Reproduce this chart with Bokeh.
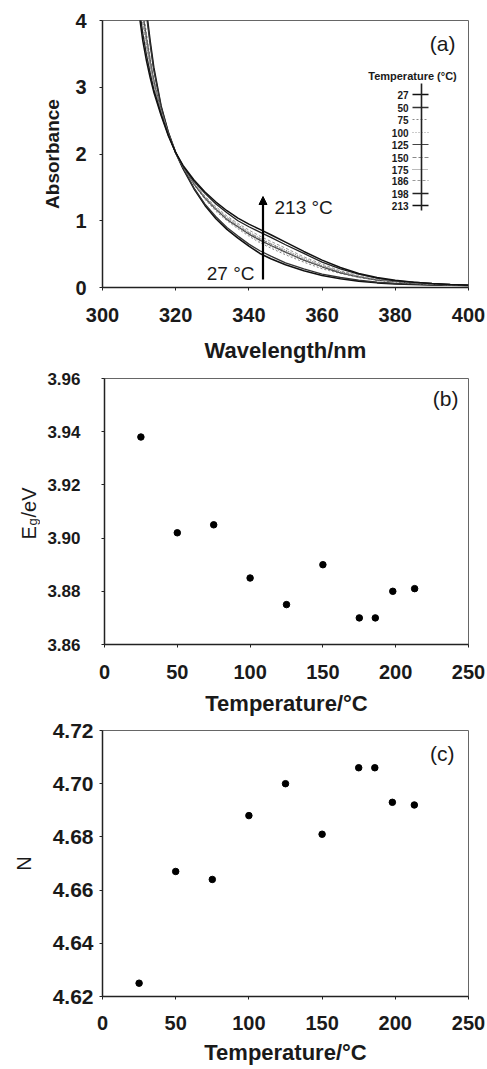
import math
from bokeh.plotting import figure
from bokeh.layouts import column, row
from bokeh.models import Label, Arrow, NormalHead, FixedTicker, PrintfTickFormatter, Range1d
from bokeh.embed import file_html
from bokeh.resources import INLINE

# ---------------- data ----------------
wavelength = [310, 311, 312, 313, 314, 316, 318, 320, 322, 325, 328, 331, 334, 337,
              340, 343, 346, 350, 355, 360, 365, 370, 375, 380, 385, 390, 395, 400]

abs_27 = [5.00, 4.60, 4.15, 3.70, 3.30, 2.72, 2.32, 2.02, 1.78, 1.48, 1.23, 1.03, 0.87, 0.74,
          0.62, 0.51, 0.43, 0.34, 0.25, 0.18, 0.13, 0.095, 0.07, 0.055, 0.045, 0.04, 0.035, 0.03]
abs_50 = [4.91, 4.51, 4.08, 3.65, 3.26, 2.71, 2.32, 2.02, 1.79, 1.49, 1.25, 1.06, 0.90, 0.77,
          0.65, 0.55, 0.47, 0.37, 0.28, 0.20, 0.15, 0.11, 0.08, 0.06, 0.05, 0.04, 0.035, 0.03]
abs_75 = [4.60, 4.20, 3.81, 3.45, 3.13, 2.66, 2.30, 2.02, 1.80, 1.54, 1.32, 1.14, 1.00, 0.88,
          0.77, 0.67, 0.59, 0.49, 0.38, 0.28, 0.21, 0.15, 0.11, 0.08, 0.06, 0.05, 0.04, 0.03]
abs_100 = [4.55, 4.15, 3.78, 3.43, 3.12, 2.65, 2.30, 2.02, 1.81, 1.55, 1.33, 1.16, 1.01, 0.89,
           0.79, 0.69, 0.61, 0.51, 0.40, 0.30, 0.22, 0.15, 0.11, 0.08, 0.06, 0.05, 0.04, 0.03]
abs_125 = [4.51, 4.11, 3.74, 3.40, 3.10, 2.64, 2.29, 2.02, 1.81, 1.55, 1.34, 1.17, 1.02, 0.91,
           0.80, 0.71, 0.63, 0.53, 0.41, 0.31, 0.22, 0.16, 0.11, 0.09, 0.06, 0.05, 0.04, 0.03]
abs_150 = [4.46, 4.06, 3.70, 3.37, 3.08, 2.64, 2.29, 2.02, 1.81, 1.56, 1.35, 1.18, 1.04, 0.92,
           0.82, 0.73, 0.65, 0.54, 0.42, 0.32, 0.23, 0.16, 0.12, 0.09, 0.07, 0.05, 0.04, 0.03]
abs_175 = [4.42, 4.02, 3.66, 3.34, 3.06, 2.63, 2.29, 2.02, 1.81, 1.56, 1.36, 1.19, 1.05, 0.94,
           0.83, 0.74, 0.66, 0.56, 0.44, 0.33, 0.24, 0.17, 0.12, 0.09, 0.07, 0.05, 0.04, 0.03]
abs_186 = [4.35, 3.95, 3.61, 3.30, 3.03, 2.62, 2.28, 2.02, 1.82, 1.57, 1.37, 1.21, 1.07, 0.96,
           0.86, 0.77, 0.69, 0.59, 0.46, 0.35, 0.25, 0.18, 0.13, 0.10, 0.07, 0.05, 0.04, 0.03]
abs_198 = [4.21, 3.81, 3.49, 3.22, 2.97, 2.60, 2.28, 2.02, 1.82, 1.59, 1.41, 1.25, 1.12, 1.00,
           0.91, 0.83, 0.75, 0.64, 0.51, 0.38, 0.28, 0.20, 0.14, 0.10, 0.08, 0.06, 0.045, 0.035]
abs_213 = [4.10, 3.70, 3.40, 3.15, 2.93, 2.58, 2.27, 2.02, 1.83, 1.61, 1.43, 1.28, 1.15, 1.04,
           0.95, 0.87, 0.79, 0.68, 0.54, 0.41, 0.30, 0.21, 0.15, 0.11, 0.08, 0.06, 0.045, 0.035]

legend_labels = ["27", "50", "75", "100", "125", "150", "175", "186", "198", "213"]
curves = [abs_27, abs_50, abs_75, abs_100, abs_125, abs_150, abs_175, abs_186, abs_198, abs_213]

temperature = [25, 50, 75, 100, 125, 150, 175, 186, 198, 213]
band_gap = [3.938, 3.902, 3.905, 3.885, 3.875, 3.890, 3.870, 3.870, 3.880, 3.881]
n_value = [4.625, 4.667, 4.664, 4.688, 4.700, 4.681, 4.706, 4.706, 4.693, 4.692]

wl_ticks = [300, 320, 340, 360, 380, 400]
abs_ticks = [0, 1, 2, 3, 4]
t_ticks = [0, 50, 100, 150, 200, 250]
eg_ticks = [3.86, 3.88, 3.90, 3.92, 3.94, 3.96]
n_ticks = [4.62, 4.64, 4.66, 4.68, 4.70, 4.72]

# ---------------- styles ----------------
FONT = "Liberation Sans"
TXT = "#1a1a1a"
curve_styles = [
    dict(line_color="#111111", line_width=1.6, line_dash="solid"),
    dict(line_color="#333333", line_width=1.3, line_dash="solid"),
    dict(line_color="#888888", line_width=1.0, line_dash="2 2"),
    dict(line_color="#999999", line_width=1.0, line_dash="1 2"),
    dict(line_color="#444444", line_width=1.2, line_dash="solid"),
    dict(line_color="#888888", line_width=1.0, line_dash="4 2"),
    dict(line_color="#777777", line_width=1.0, line_dash="1 1"),
    dict(line_color="#999999", line_width=1.0, line_dash="3 2"),
    dict(line_color="#222222", line_width=1.3, line_dash="solid"),
    dict(line_color="#111111", line_width=1.5, line_dash="solid"),
]


def make_fig(xr, yr, fw, fh, bl, bt, bb, br, xt, yt, yfmt, xstand, ystand, ysize):
    p = figure(frame_width=fw, frame_height=fh, title=None,
               x_range=Range1d(*xr), y_range=Range1d(*yr),
               output_backend="svg", toolbar_location=None,
               min_border_left=bl, min_border_top=bt,
               min_border_bottom=bb, min_border_right=br)
    p.xgrid.visible = False
    p.ygrid.visible = False
    p.outline_line_color = "#666666"
    p.outline_line_width = 1
    p.background_fill_color = "white"
    p.border_fill_color = "white"
    p.xaxis.ticker = FixedTicker(ticks=xt)
    p.yaxis.ticker = FixedTicker(ticks=yt)
    if yfmt:
        p.yaxis.formatter = PrintfTickFormatter(format=yfmt)
    for ax in (p.xaxis[0], p.yaxis[0]):
        ax.axis_line_color = "#222222"
        ax.axis_line_width = 1.5
        ax.major_tick_in = 0
        ax.major_tick_out = 3
        ax.major_tick_line_color = "#222222"
        ax.minor_tick_line_color = None
        ax.major_label_text_font = FONT
        ax.major_label_text_font_style = "bold"
        ax.major_label_text_color = TXT
        ax.axis_label_text_font = FONT
        ax.axis_label_text_font_style = "bold"
        ax.axis_label_text_color = TXT
        ax.axis_label_text_line_height = 1.0
        ax.major_label_text_line_height = 1.0
    p.xaxis.axis_label_text_font_size = "22px"
    p.yaxis.axis_label_text_font_size = "19px"
    p.xaxis.major_label_text_font_size = "20px"
    p.yaxis.major_label_text_font_size = ysize
    p.xaxis.major_label_standoff = xstand
    p.yaxis.major_label_standoff = ystand
    return p


# ---------------- panel (a) : page y 0 .. 367 (frame 20 .. 287) ----------------
pa = make_fig((300, 400), (0, 4), 366, 267, 102, 20, 80, 19, wl_ticks, abs_ticks, None, 17, 13, "20px")
pa.xaxis.axis_label = "Wavelength/nm"
pa.yaxis.axis_label = "Absorbance"
pa.xaxis.axis_label_standoff = 13
pa.yaxis.axis_label_standoff = 9

for ys, st in zip(curves, curve_styles):
    pa.line(wavelength, ys, **st)

# pixel -> data helpers (layout only)
def ax_(px):
    return 300 + (px - 102) / 3.66

def ay_(py):
    return (287 - py) / 66.75

pa.add_layout(Arrow(end=NormalHead(size=8, fill_color="black", line_color="black"),
                    x_start=ax_(262.5), y_start=ay_(279), x_end=ax_(262.5), y_end=ay_(196),
                    line_width=2.2, line_color="black"))
pa.add_layout(Label(x=ax_(274), y=ay_(207), text="213 °C", text_font=FONT,
                    text_font_size="19px", text_baseline="middle", text_align="left",
                    text_color=TXT))
pa.add_layout(Label(x=ax_(254), y=ay_(273), text="27 °C", text_font=FONT,
                    text_font_size="19px", text_baseline="middle", text_align="right",
                    text_color=TXT))
pa.add_layout(Label(x=ax_(455), y=ay_(43), text="(a)", text_font=FONT,
                    text_font_size="21px", text_baseline="middle", text_align="right",
                    text_color=TXT))
pa.add_layout(Label(x=ax_(412), y=ay_(75), text="Temperature (°C)", text_font=FONT,
                    text_font_size="11px", text_font_style="bold", text_baseline="middle",
                    text_align="center", text_color=TXT))

row_py = [94, 107, 119, 132, 144, 157, 169, 180, 193, 205]
for lab, py, st in zip(legend_labels, row_py, curve_styles):
    pa.add_layout(Label(x=ax_(408), y=ay_(py), text=lab, text_font=FONT,
                        text_font_size="10px", text_font_style="bold",
                        text_baseline="middle", text_align="right", text_color=TXT))
    pa.line([ax_(412), ax_(428)], [ay_(py), ay_(py)], **st)
pa.line([ax_(421), ax_(421)], [ay_(83), ay_(210)], line_color="#222222", line_width=1.6)

# ---------------- panel (b) : page y 367 .. 719 (frame 378 .. 644) ----------------
PB_TOP = 367
PB_BT, PB_BB = 11, 75
pb = make_fig((0, 250), (3.86, 3.96), 364, 266, 64, PB_BT, PB_BB, 19, t_ticks, eg_ticks, "%.2f", 17, 21, "17px")
pb.xaxis.axis_label = "Temperature/°C"
pb.xaxis.axis_label_standoff = 9
pb.scatter(temperature, band_gap, size=6.5, color="black")

def bx_(px):
    return (px - 104) / 1.456

def by_(py):
    return 3.86 + (644 - py) / 2660.0

pb.add_layout(Label(x=bx_(458), y=by_(398), text="(b)", text_font=FONT,
                    text_font_size="21px", text_baseline="middle", text_align="right",
                    text_color=TXT))

# narrow strip to the left of (b) that carries the y title E_g/eV
PB_H = PB_BT + 266 + PB_BB
pe = figure(frame_width=40, frame_height=PB_H, title=None,
            x_range=Range1d(0, 40), y_range=Range1d(0, PB_H),
            output_backend="svg", toolbar_location=None,
            min_border_left=0, min_border_right=0, min_border_top=0, min_border_bottom=0)
pe.axis.visible = False
pe.xgrid.visible = False
pe.ygrid.visible = False
pe.outline_line_color = None
pe.border_fill_color = "white"
PB_BOTTOM = PB_TOP + PB_H
rot = math.pi / 2
pe.add_layout(Label(x=28, y=PB_BOTTOM - 528, text="E", angle=rot, text_font=FONT,
                    text_font_size="20px", text_baseline="alphabetic", text_align="left",
                    text_color=TXT))
pe.add_layout(Label(x=32, y=PB_BOTTOM - 514, text="g", angle=rot, text_font=FONT,
                    text_font_size="13px", text_baseline="alphabetic", text_align="left",
                    text_color=TXT))
pe.add_layout(Label(x=28, y=PB_BOTTOM - 506, text="/eV", angle=rot, text_font=FONT,
                    text_font_size="20px", text_baseline="alphabetic", text_align="left",
                    text_color=TXT))

# ---------------- panel (c) : page y 719 .. 1069 (frame 730 .. 996) ----------------
pc = make_fig((0, 250), (4.62, 4.72), 366, 266, 102, 11, 73, 19, t_ticks, n_ticks, "%.2f", 16, 6, "21px")
pc.xaxis.axis_label = "Temperature/°C"
pc.yaxis.axis_label = "N"
pc.xaxis.axis_label_standoff = 7
pc.yaxis.axis_label_standoff = 15
pc.yaxis.axis_label_text_font_style = "normal"
pc.yaxis.axis_label_text_font_size = "20px"
pc.scatter(temperature, n_value, size=6.5, color="black")

def cx_(px):
    return (px - 102) / 1.464

def cy_(py):
    return 4.62 + (996 - py) / 2660.0

pc.add_layout(Label(x=cx_(454), y=cy_(753), text="(c)", text_font=FONT,
                    text_font_size="21px", text_baseline="middle", text_align="right",
                    text_color=TXT))

layout = column(pa, row(pe, pb, spacing=0), pc, spacing=0)
open("out.html", "w").write(file_html(layout, INLINE))
